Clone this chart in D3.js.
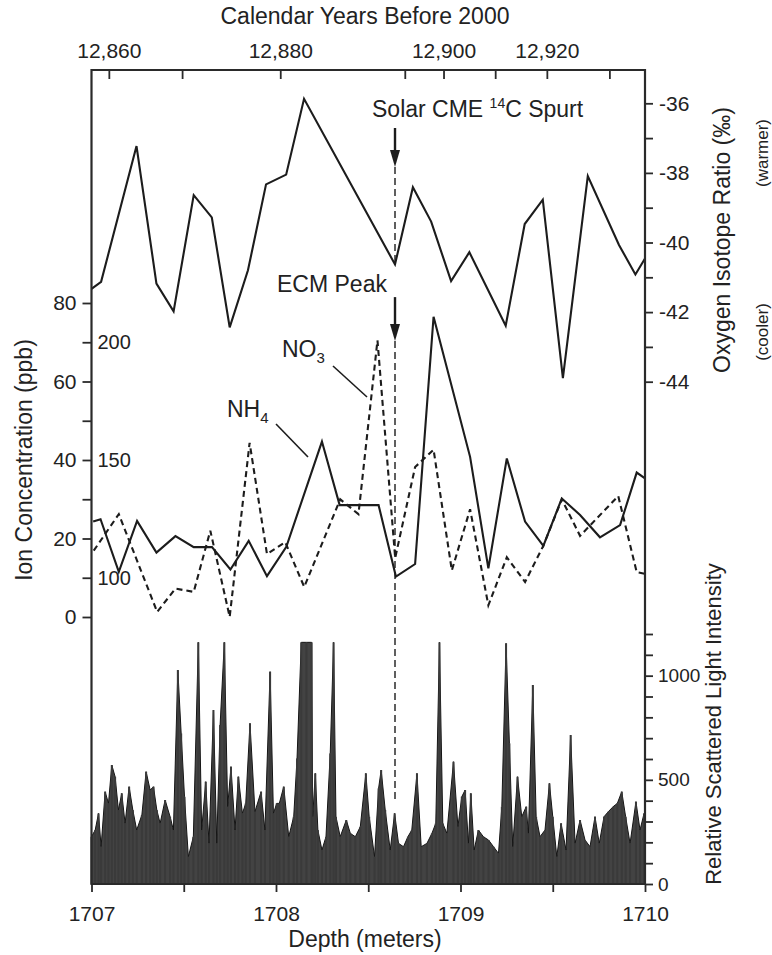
<!DOCTYPE html>
<html>
<head>
<meta charset="utf-8">
<script src="https://cdn.jsdelivr.net/npm/d3@7"></script>
<style>
	body{margin:0;background:#fff;}
	svg text{font-family:"Liberation Sans",Arial,Helvetica,sans-serif;fill:#222;}
</style>
</head>
<body>
<svg id="chart" width="772" height="955"></svg>
<script>
/*
	Ice core panel: oxygen isotopes, NH4 / NO3 and scattered light vs depth
*/

// oxygen isotope ratio (per mil)
const oxyDepth = [1707.000,1707.052,1707.244,1707.352,1707.445,1707.554,1707.652,1707.749,1707.848,1707.946,1708.055,1708.152,1708.645,1708.742,1708.841,1708.949,1709.048,1709.245,1709.348,1709.446,1709.555,1709.690,1709.859,1709.948,1710.000];
const oxyValue = [-41.33,-41.13,-37.23,-41.18,-41.98,-38.64,-39.28,-42.44,-40.80,-38.33,-38.05,-35.87,-40.63,-38.41,-39.40,-41.11,-40.28,-42.39,-39.47,-38.77,-43.90,-38.09,-40.07,-40.92,-40.46];

// NH4 (ppb, left scale)
const nh4Depth = [1707.009,1707.049,1707.148,1707.247,1707.352,1707.455,1707.554,1707.653,1707.753,1707.852,1707.951,1708.056,1708.249,1708.345,1708.457,1708.556,1708.650,1708.754,1708.854,1709.052,1709.151,1709.251,1709.350,1709.449,1709.549,1709.648,1709.756,1709.865,1709.955,1710.000];
const nh4Value = [24.3,24.9,11.5,24.5,16.4,20.6,17.8,17.8,12.1,19.4,10.4,17.9,44.7,28.5,28.5,28.5,10.3,13.5,76.5,40.8,12.4,40.4,24.3,18.1,30.2,26.0,20.3,23.4,36.8,35.3];

// NO3 (ppb, inner scale 100-200)
const no3Depth = [1707.012,1707.148,1707.356,1707.455,1707.554,1707.644,1707.749,1707.857,1707.951,1708.050,1708.153,1708.348,1708.447,1708.550,1708.646,1708.754,1708.854,1708.953,1709.052,1709.151,1709.251,1709.350,1709.449,1709.549,1709.648,1709.855,1709.955,1710.000];
const no3Value = [111.5,127.0,85.5,95.4,94.0,120.0,83.4,157.3,110.1,115.1,96.1,133.3,127.0,200.8,108.4,147.0,154.4,103.1,129.1,88.3,108.7,98.2,113.6,133.3,117.8,134.7,102.4,101.7];

// relative scattered light intensity
const lightDepth = [1707.000,1707.020,1707.038,1707.052,1707.074,1707.092,1707.110,1707.128,1707.146,1707.164,1707.182,1707.204,1707.224,1707.245,1707.273,1707.296,1707.318,1707.336,1707.354,1707.372,1707.399,1707.426,1707.444,1707.468,1707.486,1707.504,1707.525,1707.552,1707.579,1707.597,1707.619,1707.637,1707.661,1707.679,1707.697,1707.720,1707.738,1707.756,1707.778,1707.796,1707.818,1707.836,1707.859,1707.886,1707.919,1707.940,1707.968,1707.986,1708.004,1708.018,1708.042,1708.069,1708.096,1708.114,1708.137,1708.165,1708.193,1708.199,1708.213,1708.227,1708.249,1708.271,1708.294,1708.312,1708.325,1708.348,1708.381,1708.403,1708.430,1708.457,1708.487,1708.505,1708.534,1708.556,1708.570,1708.592,1708.619,1708.643,1708.664,1708.691,1708.715,1708.736,1708.764,1708.787,1708.818,1708.845,1708.866,1708.886,1708.904,1708.926,1708.962,1708.986,1709.007,1709.025,1709.043,1709.056,1709.074,1709.097,1709.124,1709.152,1709.179,1709.206,1709.224,1709.247,1709.265,1709.283,1709.309,1709.332,1709.356,1709.368,1709.392,1709.410,1709.431,1709.458,1709.482,1709.500,1709.522,1709.545,1709.572,1709.597,1709.621,1709.648,1709.675,1709.702,1709.729,1709.752,1709.778,1709.801,1709.827,1709.850,1709.874,1709.895,1709.919,1709.951,1709.973,1709.995,1710.000];
const lightValue = [227,259,339,179,443,387,571,515,355,435,291,467,355,259,331,539,451,467,355,291,403,323,259,1027,723,419,131,227,1160,259,491,195,835,195,763,1160,371,563,259,515,339,387,771,347,443,259,1019,339,387,387,467,227,323,603,1160,1160,1160,323,531,259,163,227,627,1160,323,227,307,243,227,275,531,323,131,459,547,355,163,339,195,179,227,259,531,179,195,243,291,1160,291,243,587,275,419,451,195,435,163,259,227,211,179,147,371,1155,675,179,515,323,371,243,955,323,227,259,483,323,131,291,163,715,195,307,211,179,323,195,323,347,371,387,443,323,195,395,259,339,339];

// top axis: calendar years and the depth each tick sits at
const topYears = [12860,12870,12880,12890,12900,12910,12920,12930];
const topYearDepth = [1707.094,1707.491,1708.023,1708.698,1708.908,1709.188,1709.468,1709.807];
const topLabelled = [12860,12880,12900,12920];

const depthTicks = [1707,1707.5,1708,1708.5,1709,1709.5,1710];
const oxyTicks = [-36,-37,-38,-39,-40,-41,-42,-43,-44];
const ionTicks = [0,10,20,30,40,50,60,70,80];
const no3Labels = [100,150,200];
const lightTicks = [0,100,200,300,400,500,600,700,800,900,1000,1100,1200];

// event
const ecmDepth = 1708.645;

const svg = d3.select("#chart");
const L = 91.5, R = 645, T = 70, B = 884;

const x = d3.scaleLinear().domain([1707,1710]).range([L,R]);
const oxyY = d3.scaleLinear().domain([-36,-44]).range([103.3,381.7]);
const ionY = d3.scaleLinear().domain([0,80]).range([617,303]);
const no3Y = d3.scaleLinear().domain([100,200]).range([ionY(10),ionY(70)]);
const lightY = d3.scaleLinear().domain([0,1200]).range([B,634]);
const ageX = d3.scaleLinear().domain(topYears).range(topYearDepth.map(d => x(d)));

const ink = "#1c1c1c";

// light intensity: jagged area plus a thin stick at every sample
const lightData = lightDepth.map((d,i) => ({d:d, v:lightValue[i]}));
svg.append("path")
	.datum(lightData)
	.attr("d", d3.area().x(p => x(p.d)).y0(lightY(0)).y1(p => lightY(p.v)))
	.attr("fill","#434343")
	.attr("stroke","#151515")
	.attr("stroke-width",1);
svg.selectAll("rect.stick").data(lightData).enter().append("rect")
	.attr("class","stick")
	.attr("x", p => x(p.d) - 1)
	.attr("width", 2)
	.attr("y", p => lightY(p.v))
	.attr("height", p => lightY(0) - lightY(p.v))
	.attr("fill","#3a3a3a");

// ECM / solar dashed marker
const ex = x(ecmDepth);
function dashed(y0, y1){
	svg.append("line").attr("x1",ex).attr("x2",ex).attr("y1",y0).attr("y2",y1)
		.attr("stroke",ink).attr("stroke-width",1.4).attr("stroke-dasharray","7,4");
}
function arrow(y0, y1){
	svg.append("line").attr("x1",ex).attr("x2",ex).attr("y1",y0).attr("y2",y1-12)
		.attr("stroke",ink).attr("stroke-width",2.4);
	svg.append("path").attr("d",`M${ex-5},${y1-17}L${ex+5},${y1-17}L${ex},${y1}Z`).attr("fill",ink);
}
arrow(oxyY(-36.71), oxyY(-37.83));
dashed(oxyY(-37.83), oxyY(-40.6));
arrow(ionY(81.5), ionY(70.3));
dashed(ionY(70.3), lightY(400));

// series lines
function series(depths, values, yScale, dash){
	const pts = depths.map((d,i) => [x(d), yScale(values[i])]);
	const p = svg.append("path")
		.attr("d", d3.line()(pts))
		.attr("fill","none")
		.attr("stroke",ink)
		.attr("stroke-width",2.1)
		.attr("stroke-linejoin","miter");
	if(dash) p.attr("stroke-dasharray",dash);
}
series(oxyDepth, oxyValue, oxyY);
series(no3Depth, no3Value, no3Y, "6,4");
series(nh4Depth, nh4Value, ionY);

// frame
svg.append("path")
	.attr("d",`M${L},${B}L${L},${T}L${R},${T}L${R},${B}Z`)
	.attr("fill","none").attr("stroke","#2a2a2a").attr("stroke-width",2.2);

function styleAxis(g, size){
	g.select(".domain").remove();
	g.selectAll(".tick line").attr("stroke","#2a2a2a").attr("stroke-width",1.8);
	g.selectAll(".tick text").attr("font-size",size || 21).attr("fill","#222")
		.attr("font-family","Liberation Sans, Arial, sans-serif");
}

// bottom depth axis
svg.append("g").attr("transform",`translate(0,${B})`)
	.call(d3.axisBottom(x).tickValues(depthTicks).tickSize(8).tickPadding(14)
		.tickFormat(d => Number.isInteger(d) ? d : ""))
	.call(styleAxis);

// top age axis (ticks point inward)
svg.append("g").attr("transform",`translate(0,${T})`)
	.call(d3.axisTop(ageX).tickValues(topYears).tickSize(-9).tickPadding(12)
		.tickFormat(d => topLabelled.includes(d) ? d3.format(",")(d) : ""))
	.call(styleAxis);

// left ion axis
svg.append("g").attr("transform",`translate(${L},0)`)
	.call(d3.axisLeft(ionY).tickValues(ionTicks).tickSize(9).tickPadding(6)
		.tickFormat(d => d % 20 == 0 ? d : ""))
	.call(styleAxis);

// inner NO3 labels
svg.selectAll("text.no3lab").data(no3Labels).enter().append("text")
	.attr("class","no3lab")
	.attr("x",L+6).attr("y",d => no3Y(d)).attr("dy","0.35em")
	.attr("font-size",20).text(d => d);

// right oxygen axis
svg.append("g").attr("transform",`translate(${R},0)`)
	.call(d3.axisRight(oxyY).tickValues(oxyTicks).tickSize(8).tickPadding(6)
		.tickFormat(d => d % 2 == 0 ? String(d) : ""))
	.call(styleAxis);

// right light axis
svg.append("g").attr("transform",`translate(${R},0)`)
	.call(d3.axisRight(lightY).tickValues(lightTicks).tickSize(8).tickPadding(5)
		.tickFormat(d => d % 500 == 0 ? d : ""))
	.call(g => styleAxis(g, 19));

// titles
svg.append("text").attr("x",365).attr("y",24).attr("text-anchor","middle")
	.attr("font-size",23).text("Calendar Years Before 2000");
svg.append("text").attr("x",365).attr("y",947).attr("text-anchor","middle")
	.attr("font-size",23).text("Depth  (meters)");
svg.append("text").attr("transform",`translate(32,460) rotate(-90)`).attr("text-anchor","middle")
	.attr("font-size",23).text("Ion Concentration  (ppb)");
svg.append("text").attr("transform",`translate(730,240) rotate(-90)`).attr("text-anchor","middle")
	.attr("font-size",23).text("Oxygen Isotope Ratio  (\u2030)");
svg.append("text").attr("transform",`translate(768,153) rotate(-90)`).attr("text-anchor","middle")
	.attr("font-size",17).text("(warmer)");
svg.append("text").attr("transform",`translate(768,332) rotate(-90)`).attr("text-anchor","middle")
	.attr("font-size",17).text("(cooler)");
svg.append("text").attr("transform",`translate(721,724) rotate(-90)`).attr("text-anchor","middle")
	.attr("font-size",22).text("Relative Scattered Light Intensity");

// annotations
const solar = svg.append("text").attr("x",372).attr("y",117).attr("font-size",23);
solar.append("tspan").text("Solar CME ");
solar.append("tspan").attr("font-size",14).attr("dy",-9).text("14");
solar.append("tspan").attr("dy",9).text("C Spurt");

svg.append("text").attr("x",277).attr("y",292).attr("font-size",23).text("ECM Peak");

const no3t = svg.append("text").attr("x",282).attr("y",357).attr("font-size",23);
no3t.append("tspan").text("NO");
no3t.append("tspan").attr("font-size",15).attr("dy",6).text("3");
svg.append("line").attr("x1",333).attr("y1",366).attr("x2",367).attr("y2",397)
	.attr("stroke",ink).attr("stroke-width",1.6);

const nh4t = svg.append("text").attr("x",227).attr("y",417).attr("font-size",23);
nh4t.append("tspan").text("NH");
nh4t.append("tspan").attr("font-size",15).attr("dy",6).text("4");
svg.append("line").attr("x1",276).attr("y1",424).attr("x2",308).attr("y2",457)
	.attr("stroke",ink).attr("stroke-width",1.6);
</script>
</body>
</html>
